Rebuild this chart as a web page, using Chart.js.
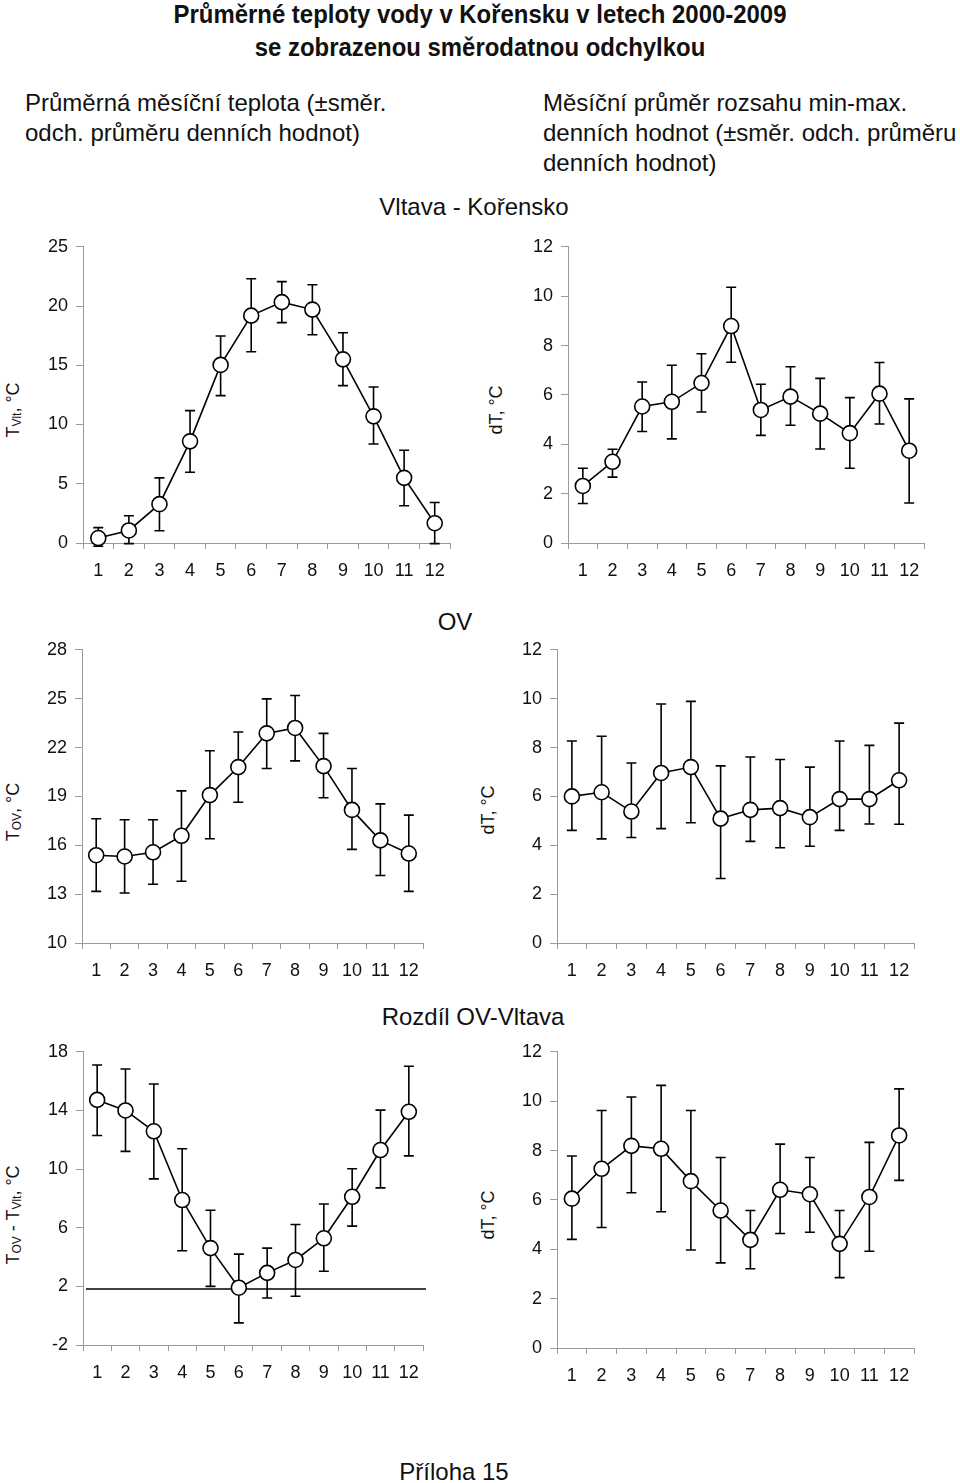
<!DOCTYPE html>
<html>
<head>
<meta charset="utf-8">
<script src="https://cdn.jsdelivr.net/npm/chart.js@4.4.1/dist/chart.umd.min.js"></script>
<style>
  body { margin: 0; background: #fff; }
  #page { position: relative; width: 960px; height: 1483px; overflow: hidden; font-family: "Liberation Sans", Arial, sans-serif; color: #111; }
  .txt { position: absolute; white-space: nowrap; font-size: 24px; line-height: 30px; }
  .title { position: absolute; left: 0; width: 960px; text-align: center; font-weight: bold; font-size: 26px;
           transform: scaleX(0.92); }
  .ylab { position: absolute; white-space: nowrap; font-size: 18px; transform: translate(-50%, -50%) rotate(-90deg); }
  .ylab sub { font-size: 12px; vertical-align: -2px; }
  canvas { position: absolute; }
</style>
</head>
<body>
<div id="page">
  <div class="title" style="top:-1px">Průměrné teploty vody v Kořensku v letech 2000-2009</div>
  <div class="title" style="top:32px">se zobrazenou směrodatnou odchylkou</div>

  <div class="txt" style="left:25px; top:88px">Průměrná měsíční teplota (±směr.<br>odch. průměru denních hodnot)</div>
  <div class="txt" style="left:543px; top:88px">Měsíční průměr rozsahu min-max.<br>denních hodnot (±směr. odch. průměru<br>denních hodnot)</div>

  <div class="txt" style="left:474px; top:192px; transform:translateX(-50%)">Vltava - Kořensko</div>
  <div class="txt" style="left:455px; top:607px; transform:translateX(-50%)">OV</div>
  <div class="txt" style="left:473px; top:1002px; transform:translateX(-50%)">Rozdíl OV-Vltava</div>
  <div class="txt" style="left:454px; top:1457px; transform:translateX(-50%)">Příloha 15</div>

  <div class="ylab" style="left:13px; top:410px">T<sub>Vlt</sub>, °C</div>
  <div class="ylab" style="left:496px; top:410px">dT, °C</div>
  <div class="ylab" style="left:13px; top:812px">T<sub>OV</sub>, °C</div>
  <div class="ylab" style="left:488px; top:810px">dT, °C</div>
  <div class="ylab" style="left:13px; top:1215px">T<sub>OV</sub> - T<sub>Vlt</sub>, °C</div>
  <div class="ylab" style="left:488px; top:1215px">dT, °C</div>

  <canvas id="c1"></canvas>
  <canvas id="c2"></canvas>
  <canvas id="c3"></canvas>
  <canvas id="c4"></canvas>
  <canvas id="c5"></canvas>
  <canvas id="c6"></canvas>
</div>

<script>
var mesice = ["1", "2", "3", "4", "5", "6", "7", "8", "9", "10", "11", "12"];

// Vltava - Korensko, prumerna mesicni teplota
var vltPrumer = [0.42, 1.06, 3.28, 8.58, 15.03, 19.19, 20.33, 19.7, 15.5, 10.69, 5.5, 1.67];
var vltHorni  = [1.3, 2.3, 5.5, 11.17, 17.47, 22.3, 22.06, 21.8, 17.75, 13.17, 7.83, 3.42];
var vltDolni  = [-0.28, -0.05, 1.03, 5.97, 12.44, 16.14, 18.6, 17.58, 13.28, 8.36, 3.14, -0.05];

// Vltava - rozsah min-max
var vltRozsah = [2.31, 3.29, 5.53, 5.72, 6.48, 8.79, 5.39, 5.93, 5.24, 4.45, 6.05, 3.74];
var vltRozsahHorni = [3.03, 3.8, 6.52, 7.2, 7.67, 10.36, 6.43, 7.14, 6.67, 5.89, 7.31, 5.84];
var vltRozsahDolni = [1.6, 2.67, 4.52, 4.22, 5.31, 7.32, 4.36, 4.77, 3.81, 3.03, 4.82, 1.62];

// OV
var ovPrumer = [15.39, 15.31, 15.57, 16.58, 19.08, 20.8, 22.87, 23.2, 20.86, 18.17, 16.3, 15.49];
var ovHorni  = [17.63, 17.57, 17.57, 19.34, 21.8, 22.95, 24.99, 25.19, 22.87, 20.71, 18.54, 17.85];
var ovDolni  = [13.17, 13.07, 13.61, 13.79, 16.4, 18.64, 20.71, 21.18, 18.92, 15.75, 14.14, 13.17];

var ovRozsah = [6.0, 6.17, 5.38, 6.96, 7.2, 5.09, 5.45, 5.52, 5.15, 5.89, 5.89, 6.66];
var ovRozsahHorni = [8.27, 8.46, 7.37, 9.78, 9.89, 7.25, 7.61, 7.51, 7.2, 8.27, 8.09, 9.0];
var ovRozsahDolni = [4.61, 4.26, 4.32, 4.68, 4.92, 2.64, 4.16, 3.9, 3.96, 4.61, 4.87, 4.86];

// Rozdil OV - Vltava
var rozPrumer = [14.72, 14.0, 12.58, 7.89, 4.61, 1.91, 2.92, 3.8, 5.28, 8.11, 11.3, 13.91];
var rozHorni  = [17.1, 16.83, 15.8, 11.39, 7.19, 4.2, 4.61, 6.22, 7.62, 10.02, 14.02, 17.01];
var rozDolni  = [12.29, 11.21, 9.33, 4.43, 2.0, -0.49, 1.21, 1.33, 3.03, 6.11, 8.72, 10.9];
var rozLinie = 1.82;

var rozRozsah = [6.05, 7.26, 8.19, 8.07, 6.76, 5.57, 4.38, 6.41, 6.23, 4.22, 6.12, 8.61];
var rozRozsahHorni = [7.78, 9.62, 10.17, 10.64, 9.62, 7.72, 5.57, 8.26, 7.72, 5.57, 8.33, 10.5];
var rozRozsahDolni = [4.4, 4.88, 6.29, 5.52, 3.97, 3.45, 3.21, 4.64, 4.69, 2.85, 3.92, 6.79];

var PISMO = "'Liberation Sans', Arial, sans-serif";
var SEDA = "#9a9a9a";

// chybove usecky (smerodatna odchylka)
var chybovePlugin = {
    id: "chyby",
    beforeDatasetsDraw: function (chart) {
        var o = chart.options.plugins.chyby;
        if (!o) return;
        var ctx = chart.ctx;
        var xs = chart.scales.x, ys = chart.scales.y;
        ctx.save();
        ctx.strokeStyle = "#000";
        ctx.lineWidth = 1.6;
        for (var i = 0; i < o.horni.length; i++) {
            var x = xs.getPixelForValue(i);
            var yh = ys.getPixelForValue(o.horni[i]);
            var yl = ys.getPixelForValue(o.dolni[i]);
            ctx.beginPath();
            ctx.moveTo(x, yh); ctx.lineTo(x, yl);
            ctx.moveTo(x - 5, yh); ctx.lineTo(x + 5, yh);
            ctx.moveTo(x - 5, yl); ctx.lineTo(x + 5, yl);
            ctx.stroke();
        }
        if (o.linie !== undefined) {
            var y = ys.getPixelForValue(o.linie);
            ctx.beginPath();
            ctx.moveTo(chart.chartArea.left + 3, y);
            ctx.lineTo(chart.chartArea.right + 3, y);
            ctx.stroke();
        }
        ctx.restore();
    }
};

function VytvorGraf(id, oblast, prumer, horni, dolni, min, max, krok, linie) {
    var platno = document.getElementById(id);
    var vlevo = 75, nahore = 15, vpravo = 12, dole = 45;
    platno.width = oblast.right - oblast.left + vlevo + vpravo;
    platno.height = oblast.bottom - oblast.top + nahore + dole;
    platno.style.left = (oblast.left - vlevo) + "px";
    platno.style.top = (oblast.top - nahore) + "px";

    new Chart(platno, {
        type: "line",
        data: {
            labels: mesice,
            datasets: [{
                data: prumer,
                borderColor: "#000",
                borderWidth: 1.6,
                pointRadius: 7.5,
                pointBackgroundColor: "#fff",
                pointBorderColor: "#000",
                pointBorderWidth: 1.6,
                tension: 0,
                clip: false
            }]
        },
        options: {
            responsive: false,
            animation: false,
            events: [],
            layout: { padding: { top: nahore, right: vpravo, left: 0, bottom: 0 } },
            plugins: {
                legend: { display: false },
                tooltip: { enabled: false },
                chyby: { horni: horni, dolni: dolni, linie: linie }
            },
            scales: {
                x: {
                    offset: true,
                    grid: { offset: true, drawOnChartArea: false, tickLength: 6, color: SEDA },
                    border: { color: SEDA, width: 1 },
                    ticks: { color: "#111", font: { size: 18, family: PISMO }, padding: 11, maxRotation: 0, autoSkip: false },
                    afterFit: function (s) { s.height = dole; }
                },
                y: {
                    min: min,
                    max: max,
                    grid: { drawOnChartArea: false, tickLength: 7, color: SEDA },
                    border: { color: SEDA, width: 1 },
                    ticks: { stepSize: krok, color: "#111", font: { size: 18, family: PISMO }, padding: 8 },
                    afterFit: function (s) { s.width = vlevo; }
                }
            }
        },
        plugins: [chybovePlugin]
    });
}

VytvorGraf("c1", { left: 83, top: 243, right: 450, bottom: 543 }, vltPrumer, vltHorni, vltDolni, 0, 25, 5);
VytvorGraf("c2", { left: 568, top: 243, right: 924, bottom: 543 }, vltRozsah, vltRozsahHorni, vltRozsahDolni, 0, 12, 2);
VytvorGraf("c3", { left: 82, top: 646, right: 423, bottom: 943 }, ovPrumer, ovHorni, ovDolni, 10, 28, 3);
VytvorGraf("c4", { left: 557, top: 646, right: 914, bottom: 943 }, ovRozsah, ovRozsahHorni, ovRozsahDolni, 0, 12, 2);
VytvorGraf("c5", { left: 83, top: 1048, right: 423, bottom: 1345 }, rozPrumer, rozHorni, rozDolni, -2, 18, 4, rozLinie);
VytvorGraf("c6", { left: 557, top: 1048, right: 914, bottom: 1348 }, rozRozsah, rozRozsahHorni, rozRozsahDolni, 0, 12, 2);
</script>
</body>
</html>
